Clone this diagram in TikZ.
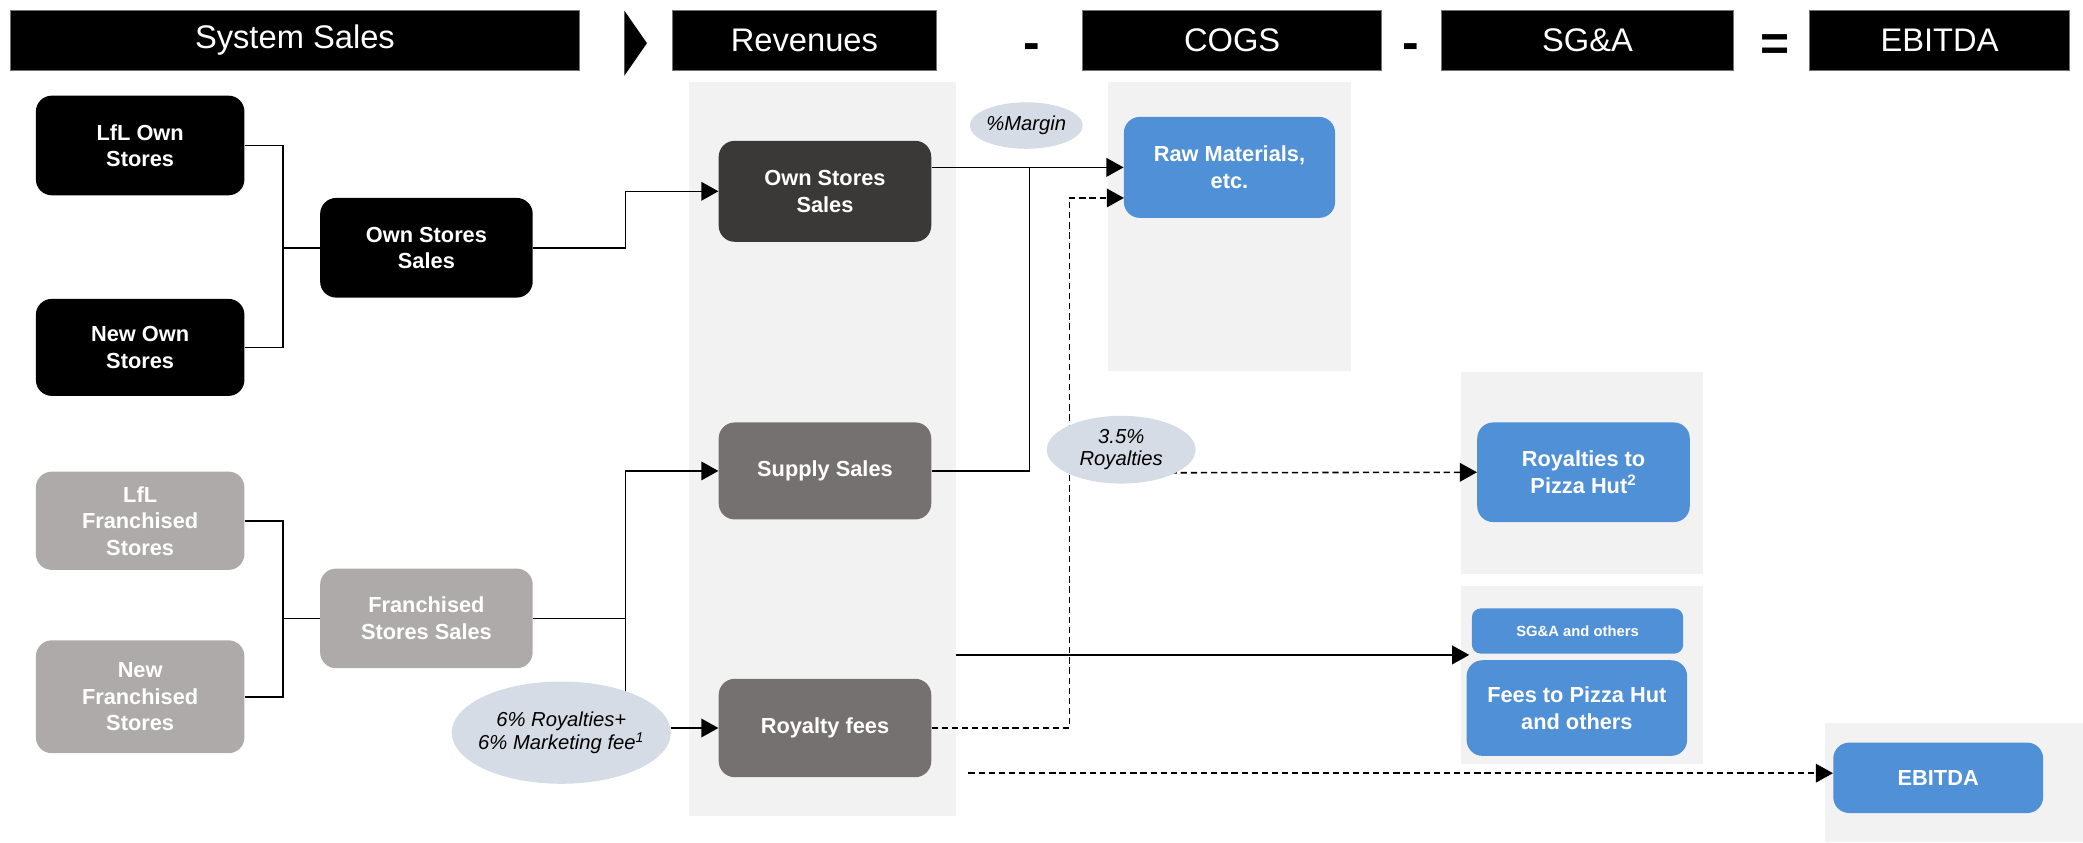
\documentclass[tikz,border=0pt]{standalone}
\usepackage{fontspec}
\setmainfont{Liberation Sans}
\usetikzlibrary{arrows.meta,shapes.geometric}

\definecolor{boxblue}{RGB}{79,144,214}
\definecolor{darkgrey}{RGB}{59,56,56}
\definecolor{midgrey}{RGB}{118,113,113}
\definecolor{lightgrey}{RGB}{174,170,170}
\definecolor{ovalc}{RGB}{214,220,229}
\definecolor{panel}{RGB}{242,242,242}

\begin{document}
\begin{tikzpicture}[x=0.03cm,y=-0.03cm,
  wh/.style 2 args={minimum width=#1*0.03cm,minimum height=#2*0.03cm},
  hdr/.style={fill=black,draw=black!55,line width=0.6pt,text=white,inner sep=0pt,font=\fontsize{21}{24}\selectfont},
  sym/.style={inner sep=0pt,font=\bfseries\fontsize{32}{32}\selectfont},
  box/.style={rounded corners=0.36cm,text=white,align=center,inner sep=0pt,font=\bfseries\fontsize{14}{17}\selectfont},
  oval/.style={ellipse,fill=ovalc,inner sep=0pt},
  lbl/.style={align=center,inner sep=0pt,font=\itshape\fontsize{13}{14.5}\selectfont},
  ln/.style={line width=1pt},
  arr/.style={ln,-{Triangle[length=11pt,width=12pt]}},
  darr/.style={arr,dash pattern=on 4pt off 2.5pt}]
\useasboundingbox (0,0) rectangle (1568,634);

\fill[panel] (519,62) rectangle (720,614);
\fill[panel] (834,62) rectangle (1017,279);
\fill[panel] (1100,280) rectangle (1282,432);
\fill[panel] (1100,441) rectangle (1282,575);
\fill[panel] (1374,544) rectangle (1568,634);

\node[hdr,wh={428}{45}] (sys) at (222,30.5) {System Sales};
\fill (470,8) -- (487,32.5) -- (470,57) -- cycle;
\node[hdr,wh={199}{45}] (rev) at (605.5,30.5) {Revenues};
\node[sym] (minA) at (777,39) {-};
\node[hdr,wh={225}{45}] (cogs) at (927.5,30.5) {COGS};
\node[sym] (minB) at (1062,39) {-};
\node[hdr,wh={220}{45}] (sga) at (1195,30.5) {SG\&A};
\node[sym] (eq) at (1336,36) {=};
\node[hdr,wh={196}{45}] (ebitdaH) at (1460,30.5) {EBITDA};

\node[box,fill=black,wh={157}{75}] (lflown) at (105.5,109.5) {LfL Own\\Stores};
\node[box,fill=black,wh={157}{73}] (newown) at (105.5,261.5) {New Own\\Stores};
\node[box,fill=black,wh={160}{75}] (ownsales) at (321,186.5) {Own Stores\\Sales};
\node[box,fill=lightgrey,wh={157}{74}] (lflfr) at (105.5,392) {LfL\\Franchised\\Stores};
\node[box,fill=lightgrey,wh={157}{85}] (newfr) at (105.5,524.5) {New\\Franchised\\Stores};
\node[box,fill=lightgrey,wh={160}{75}] (frsales) at (321,465.5) {Franchised\\Stores Sales};

\node[box,fill=darkgrey,wh={160}{76}] (rOwn) at (621,144) {Own Stores\\Sales};
\node[box,fill=midgrey,wh={160}{73}] (rSupply) at (621,354.5) {Supply Sales};
\node[box,fill=midgrey,wh={160}{74}] (rRoy) at (621,548) {Royalty fees};

\node[box,fill=boxblue,wh={159}{76}] (raw) at (925.5,126) {Raw Materials,\\etc.};
\node[box,fill=boxblue,wh={160}{75}] (royPH) at (1192,355.5) {Royalties to\\Pizza Hut\textsuperscript{2}};
\node[box,fill=boxblue,wh={159}{34},rounded corners=0.2cm,font=\bfseries\fontsize{9.5}{11}\selectfont] (sgaOth) at (1187.5,475) {SG\&A and others};
\node[box,fill=boxblue,wh={166}{72}] (fees) at (1187,533) {Fees to Pizza Hut\\and others};
\node[box,fill=boxblue,wh={158}{53}] (ebitda) at (1459,585.5) {EBITDA};

\coordinate (ownjoin) at (213,186.5);
\draw[ln] (lflown.east) -| (ownjoin) -- (ownsales.west);
\draw[ln] (newown.east) -| (ownjoin);
\coordinate (frjoin) at (213,465.5);
\draw[ln] (lflfr.east) -| (frjoin) -- (frsales.west);
\draw[ln] (newfr.east) -| (frjoin);

\coordinate (ownturn) at (471,186.5);
\draw[arr] (ownsales.east) -- (ownturn) |- (rOwn.west);
\coordinate (frturn) at (471,465.5);
\draw[ln] (frsales.east) -- (frturn) -- (frturn |- rRoy.west);
\draw[arr] (frturn) |- (rSupply.west);

\coordinate (mjoin) at (775,126);
\draw[arr] (rOwn.east |- raw.west) -- (raw.west);
\draw[ln] (rSupply.east) -| (mjoin);
\coordinate (rawin) at (846,149);
\coordinate (royturn) at (805,356);
\draw[darr] (rRoy.east) -| (royturn) |- (rawin);
\draw[darr] (royturn) -- (royPH.west);

\coordinate (feesrc) at (720,493);
\coordinate (feesin) at (1106,493);
\draw[arr] (feesrc) -- (feesin);
\coordinate (ebsrc) at (729,582);
\draw[darr] (ebsrc) -- (ebsrc -| ebitda.west);

\node[oval,wh={85}{35},label={[lbl]center:\%Margin}] (margin) at (772.5,94.5) {};
\node[oval,wh={165}{77},label={[lbl]center:6\% Royalties+\\6\% Marketing fee\textsuperscript{1}}] (roy6) at (422.5,551.5) {};
\draw[arr] (rRoy.west -| roy6.east) -- (rRoy.west);
\node[oval,wh={112}{51},label={[lbl]center:3.5\%\\Royalties}] (roy35) at (844,338.5) {};
\end{tikzpicture}
\end{document}
